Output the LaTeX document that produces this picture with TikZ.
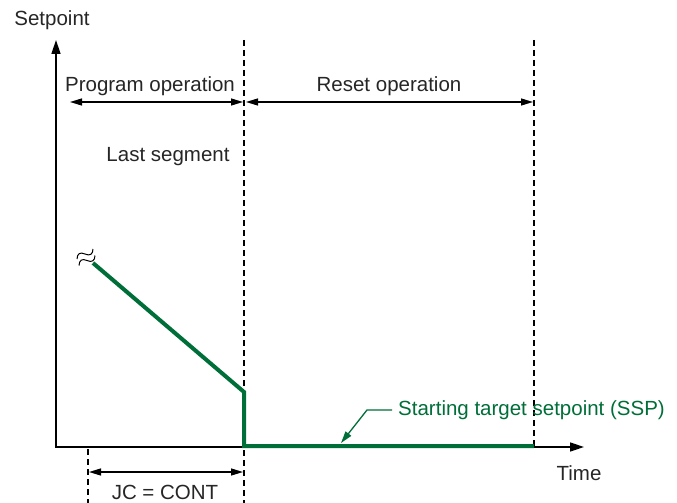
\documentclass[tikz,border=0pt]{standalone}
\usepackage{fontspec}
\setmainfont{Liberation Sans}
\usetikzlibrary{arrows.meta,positioning}
\definecolor{spgreen}{RGB}{0,110,56}

\begin{document}
\begin{tikzpicture}[
  x=1pt, y=-1pt,
  font=\fontsize{20.5}{24}\selectfont,
  axis/.style={line width=1.5pt, {Triangle[length=14pt,width=9pt]}-{Triangle[length=14pt,width=9pt]}},
  guide/.style={line width=1.3pt, dash pattern=on 6pt off 4pt},
  span/.style={line width=1.3pt, {Triangle[length=12pt,width=7pt]}-{Triangle[length=12pt,width=7pt]}},
  sp/.style={spgreen, line width=4pt, line join=miter},
  lbl/.style={inner sep=0pt, text=black!85},
]
\useasboundingbox (0,0) rectangle (677,503);

% ---- axes ----
\coordinate (O)    at (56,447);
\coordinate (ytop) at (56,40);
\coordinate (xend) at (584,447);
\draw[axis] (ytop) -- (O) -- (xend);
\node[lbl] (setpt) at (52,20)  {Setpoint};
\node[lbl, anchor=base] (time) at (579,480) {Time};

% ---- guide lines ----
\coordinate (g1t) at (244,40);  \coordinate (g1b) at (244,503);
\coordinate (g2t) at (534,40);  \coordinate (g2b) at (534,447);
\coordinate (g0t) at (88,449);  \coordinate (g0b) at (88,503);
\draw[guide] (g1t) -- (g1b);
\draw[guide] (g2t) -- (g2b);
\draw[guide] (g0t) -- (g0b);

% ---- spans ----
\coordinate (pl) at (70,102);  \coordinate (pr) at (243,102);
\coordinate (rl) at (246,102); \coordinate (rr) at (533,102);
\coordinate (jl) at (89,472);  \coordinate (jr) at (243,472);
\draw[span] (pl) -- (pr);
\draw[span] (rl) -- (rr);
\draw[span] (jl) -- (jr);
\node[lbl] (prog)  at (150,86)  {Program operation};
\node[lbl] (reset) at (389,86)  {Reset operation};
\node[lbl] (last)  at (168,157) {Last segment};
\node[lbl, anchor=base] (jc) at (165,499) {JC = CONT};

% ---- setpoint curve ----
\coordinate (s0) at (93,263);
\coordinate (s1) at (244,392);
\coordinate (s2) at (244,446);
\coordinate (s3) at (534,446);
\draw[sp] (s0) -- (s1) -- (s2) -- (s3);
% break mark
\foreach \dx/\dy in {0/0,2/6.5}{
  \draw[line width=1pt, shift={(\dx,\dy)}]
    (77,259) .. controls (77.2,253.6) and (80.1,251.8) .. (85,254)
             .. controls (89.9,256.2) and (92.9,254.4) .. (93,249);
}

% ---- SSP label ----
\node[lbl, text=spgreen, anchor=west] (ssp) at (398,410) {Starting target setpoint (SSP)};
\coordinate (bend) at (367,410);
\coordinate (hit)  at (341,443);
\draw[spgreen, line width=1.3pt, -{Triangle[length=12pt,width=7pt]}] (ssp.west) ++(-6,0) -- (bend) -- (hit);
\end{tikzpicture}
\end{document}
